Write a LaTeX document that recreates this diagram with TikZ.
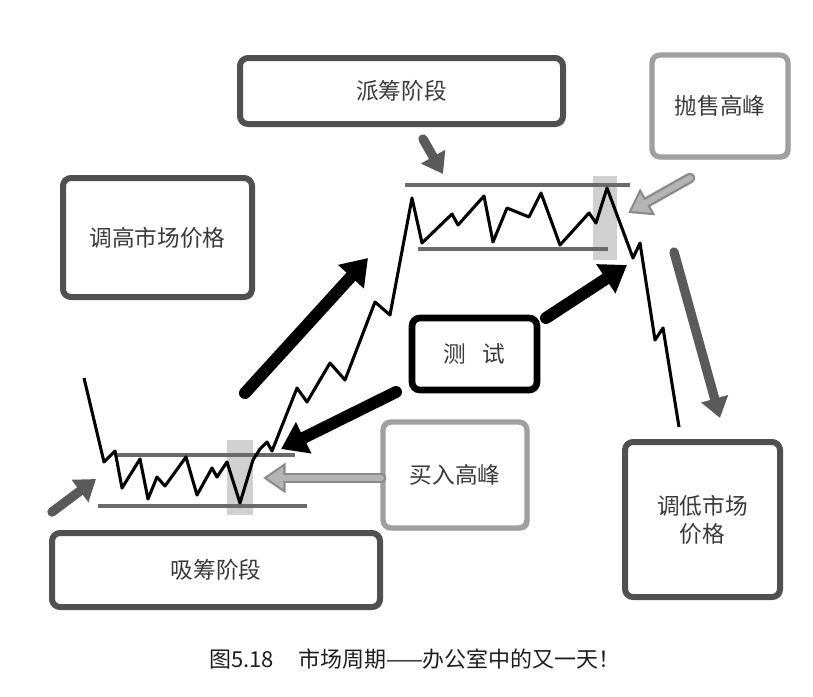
\documentclass[tikz,border=0pt]{standalone}
\usepackage{fontspec}
\setmainfont{Noto Sans CJK SC}
\usetikzlibrary{arrows.meta,shadows}
\definecolor{boxdark}{HTML}{505050}
\definecolor{boxlight}{HTML}{A0A0A0}
\definecolor{txtgray}{HTML}{3A3A3A}
\definecolor{captext}{HTML}{1E1E1E}
\definecolor{arrowdark}{HTML}{5A5A5A}
\definecolor{grayedge}{HTML}{8A8A8A}
\definecolor{grayfill}{HTML}{B4B4B4}
\definecolor{rangeline}{HTML}{6A6A6A}
\definecolor{hilite}{HTML}{D0D0D0}
\begin{document}
\begin{tikzpicture}[x=0.75pt,y=-0.75pt,
  boxbase/.style={rounded corners=6pt, fill=white, align=center, text=txtgray,
    font=\fontsize{17}{21}\selectfont, inner sep=0pt,
    drop shadow={shadow xshift=1.8pt, shadow yshift=-1.8pt, opacity=0.3, fill=black}},
  darkbox/.style={boxbase, draw=boxdark, line width=4.5pt},
  lightbox/.style={boxbase, draw=boxlight, line width=4pt},
  blackbox/.style={boxbase, draw=black, line width=5pt},
  blackarrow/.style={draw=black, line width=9pt, line cap=round, -{Triangle[length=19pt,width=25pt]}},
  darkarrow/.style={draw=arrowdark, line width=7pt, line cap=round, -{Triangle[length=15pt,width=20pt]}},
  grayouter/.style={draw=grayedge, line width=8pt, line cap=round, -{Triangle[length=17pt,width=22pt]}},
  grayinner/.style={draw=grayfill, line width=4.5pt, line cap=round, shorten >=2.8pt, -{Triangle[length=12.5pt,width=16pt]}},
  rangestyle/.style={draw=rangeline, line width=2.3pt},
  pricestyle/.style={draw=black, line width=2.3pt, line join=round},
  hilitestyle/.style={fill=hilite, draw=none}
]
\useasboundingbox (0,0) rectangle (813,696);

% highlight bands
\fill[hilitestyle] (227,440) rectangle (253,515);
\fill[hilitestyle] (593,176) rectangle (617,260);

% range lines
\draw[rangestyle] (115,455) -- (295,455);
\draw[rangestyle] (98,506) -- (307,506);
\draw[rangestyle] (405,185) -- (630,185);
\draw[rangestyle] (418,249) -- (608,249);

% price path
\draw[pricestyle] (84,378) -- (104,462) -- (115,451) -- (122,488) -- (140,459) -- (148,499)
  -- (157,477) -- (165,486) -- (186,457) -- (197,495) -- (212,468) -- (217,477) -- (227,462)
  -- (240,503) -- (253,460) -- (260,449) -- (267,442) -- (272,451) -- (297,388) -- (307,402)
  -- (330,363) -- (345,380) -- (375,302) -- (390,315) -- (412,198) -- (422,243) -- (452,214)
  -- (458,225) -- (484,196) -- (493,242) -- (507,208) -- (529,217) -- (541,193) -- (560,245)
  -- (589,213) -- (596,223) -- (607,188) -- (633,258) -- (640,243) -- (655,340) -- (663,328)
  -- (679,427);

% boxes
\node[darkbox, minimum width=242.25pt, minimum height=49.5pt] (distbox) at (401.5,91) {派筹阶段};
\node[lightbox, minimum width=102pt, minimum height=76.5pt] (sellbox) at (720,106) {抛售高峰};
\node[darkbox, minimum width=141.75pt, minimum height=89.25pt] (raisebox) at (157.5,237.5) {调高市场价格};
\node[blackbox, minimum width=93.75pt, minimum height=54pt] (testbox) at (474.5,354) {测\hspace{0.7em}试};
\node[lightbox, minimum width=108pt, minimum height=79.5pt] (buybox) at (455,475) {买入高峰};
\node[darkbox, minimum width=116.25pt, minimum height=116.25pt] (lowerbox) at (702.5,519.5) {调低市场\\价格};
\node[darkbox, minimum width=246pt, minimum height=55.5pt] (accbox) at (216,570) {吸筹阶段};

% arrow end points
\coordinate (upS) at (245,393);   \coordinate (upE) at (368,258);
\coordinate (tstS) at (396,392);  \coordinate (tstE) at (281,449);
\coordinate (tst2S) at (546,318); \coordinate (tst2E) at (627,265);
\coordinate (buyS) at (381,478);  \coordinate (buyE) at (263,478);
\coordinate (sellS) at (690,178); \coordinate (sellE) at (628,213);
\coordinate (accS) at (52,512);   \coordinate (accE) at (96,479);
\coordinate (distS) at (423,139); \coordinate (distE) at (443,174);
\coordinate (downS) at (674,252); \coordinate (downE) at (720,418);

% arrows
\draw[blackarrow] (upS) -- (upE);
\draw[blackarrow] (tstS) -- (tstE);
\draw[blackarrow] (tst2S) -- (tst2E);
\draw[grayouter] (buyS) -- (buyE);
\draw[grayinner] (buyS) -- (buyE);
\draw[grayouter] (sellS) -- (sellE);
\draw[grayinner] (sellS) -- (sellE);
\draw[darkarrow] (accS) -- (accE);
\draw[darkarrow] (distS) -- (distE);
\draw[darkarrow] (downS) -- (downE);

% caption
\node[text=captext, font=\fontsize{16.5}{20}\selectfont, inner sep=0pt] (caption) at (415,659)
  {图5.18\hspace{1.1em}市场周期——办公室中的又一天！};
\end{tikzpicture}
\end{document}
